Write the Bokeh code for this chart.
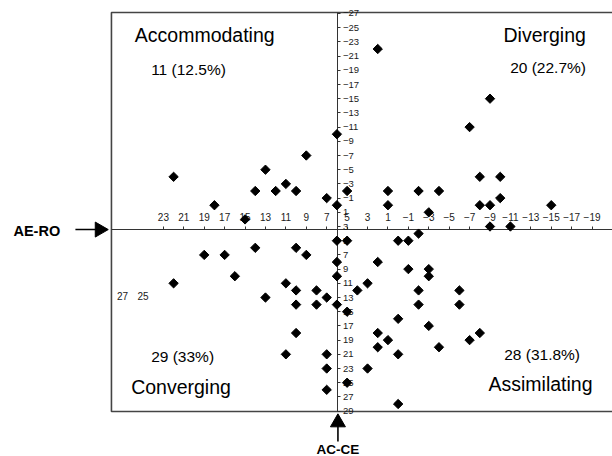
import numpy as np
from bokeh.plotting import figure
from bokeh.models import Range1d, LinearAxis, FixedTicker
from bokeh.core.properties import value
from bokeh.embed import file_html
from bokeh.resources import INLINE

# ---- data: AE-RO (horizontal) and AC-CE (vertical) scores ----
ae_ro = [22, 18, 15, 14, 13, 12, 11, 10, 9, 7, 6, 6, 2, -9, -7, -8, -10, 5, 1, -2, -4, -10, 1, -8, -9, -3, -9, -11, -15,
         22, 19, 17, 16, 14, 13, 11, 10, 9, 10, 8, 7, 10, 8, 6, 6, 6, 6, 10, 11, 7, 7, 7, 5, 5, 5, 0, -1, -2, 2,
         -1, -3, -3, 3, 4, -2, -6, -2, -6, 0, -3, 2, 1, 2, -4, 0, 3, 0, -7, -8]
ac_ce = [-4, 0, 2, -2, -5, -2, -3, -2, -7, -1, 0, -10, -22, -15, -11, -4, -4, -2, -2, -2, -2, -1, 0, 0, 0, 1, 3, 3, 0,
         11, 7, 7, 10, 6, 13, 11, 6, 7, 12, 12, 13, 14, 14, 14, 5, 8, 10, 18, 21, 21, 23, 26, 25, 15, 5, 5, 5, 4, 8,
         9, 9, 10, 11, 12, 12, 12, 14, 14, 16, 17, 18, 19, 20, 20, 21, 23, 28, 19, 18]

x_ticks = list(range(23, -20, -2))
y_ticks = list(range(-27, 30, 2))
stray_x_labels = ["27", "25"]
stray_x_pos = [27, 25]

quad_names = ["Accommodating", "Diverging", "Converging", "Assimilating"]
quad_counts = ["11 (12.5%)", "20 (22.7%)", "29 (33%)", "28 (31.8%)"]

# annotation positions (data units, vertical = text middle)
name_x = [25.8, -10.32, 26.16, -8.85]
name_y = [-24.0, -24.0, 25.54, 25.24]
count_x = [24.2, -10.97, 24.2, -10.39]
count_y = [-19.11, -19.41, 21.34, 21.06]

# plot box (data units)
BOX_L, BOX_R, BOX_T, BOX_B = 28.09, -22.5, -27.14, 29.06
X_CROSS = 5.9    # vertical axis position on x
Y_CROSS = 3.43   # horizontal axis position on y

W, H = 612, 456
FONT = "Liberation Sans"

p = figure(width=W, height=H, output_backend="svg", toolbar_location=None,
           x_range=Range1d(38.96, -21.0), y_range=Range1d(35.39, -28.83),
           x_axis_location=None, y_axis_location=None,
           min_border_left=0, min_border_right=0, min_border_top=0, min_border_bottom=0,
           background_fill_color="white", border_fill_color="white")
p.outline_line_color = None
p.xgrid.visible = False
p.ygrid.visible = False

# plot box (right side runs past the window)
p.quad(left=[BOX_L], right=[BOX_R], top=[BOX_T], bottom=[BOX_B], fill_color=None,
       line_color="#444444", line_width=1.6)

# crossing axes
xax = LinearAxis(fixed_location=Y_CROSS, ticker=FixedTicker(ticks=x_ticks), bounds=(BOX_R, BOX_L))
yax = LinearAxis(fixed_location=X_CROSS, ticker=FixedTicker(ticks=y_ticks), bounds=(BOX_T, BOX_B))
for ax, fs in [(xax, "10px"), (yax, "9.5px")]:
    ax.axis_line_color = "#333333"
    ax.axis_line_width = 1
    ax.major_tick_line_color = "#333333"
    ax.major_tick_out = 3
    ax.major_tick_in = 0
    ax.minor_tick_line_color = None
    ax.major_label_text_font = FONT
    ax.major_label_text_font_size = fs
    ax.major_label_text_color = "#1a1a1a"
xax.major_label_standoff = 6
yax.major_label_standoff = 2
p.add_layout(xax, "above")
p.add_layout(yax, "right")

# stray tick labels 27 and 25
p.text(x=stray_x_pos, y=[12.82, 12.82], text=stray_x_labels, text_font=value(FONT), text_font_size="10px",
       text_align="center", text_baseline="middle", text_color="#1a1a1a")

# points
p.scatter(ae_ro, ac_ce, marker="square", size=6.6, angle=np.pi / 4, fill_color="black",
          line_color="black", level="overlay")

# quadrant labels
p.text(x=name_x, y=name_y, text=quad_names, text_font=value(FONT), text_font_size="19.5px",
       text_align="left", text_baseline="middle", text_color="black")
p.text(x=count_x, y=count_y, text=quad_counts, text_font=value(FONT), text_font_size="15.5px",
       text_align="left", text_baseline="middle", text_color="black")

# axis names with arrows
p.segment(x0=[31.62, X_CROSS], y0=[Y_CROSS, 33.28], x1=[29.4, X_CROSS], y1=[Y_CROSS, 30.6],
          line_color="black", line_width=1.6)
p.scatter(x=[29.25, X_CROSS], y=[Y_CROSS, 30.6], marker="triangle", size=15,
          angle=[-np.pi / 2, 0], fill_color="black", line_color="black")
p.text(x=[35.4, X_CROSS], y=[3.7, 34.4], text=["AE-RO", "AC-CE"], text_font=value(FONT),
       text_font_style="bold", text_font_size=["14.5px", "13.5px"], text_align="center",
       text_baseline="middle", text_color="black")

open("out.html", "w").write(file_html(p, INLINE))
